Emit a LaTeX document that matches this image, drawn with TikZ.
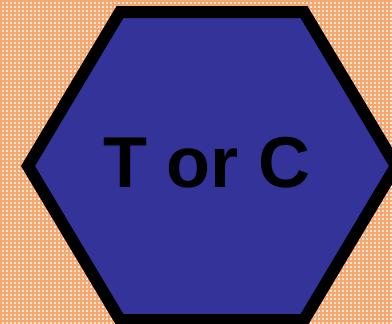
\documentclass[tikz,border=0pt]{standalone}
\usepackage{fontspec}
\setmainfont{Liberation Sans}
\definecolor{hexBlue}{HTML}{333399}
\definecolor{plaidPeach}{HTML}{FDE6D3}
\definecolor{plaidOrange}{HTML}{F6A770}
\tikzset{
    hexface/.style={draw=black,fill=hexBlue,line width=12pt,line join=miter},
    plaidline/.style={draw=plaidOrange,line width=1.2pt},
    bigtext/.style={font=\fontsize{72}{72}\selectfont\bfseries,text=black,
        inner sep=0pt,anchor=base}
}
\begin{document}
\begin{tikzpicture}[x=1pt,y=-1pt]
    \useasboundingbox (0,0) rectangle (392,324);
    \clip (0,0) rectangle (392,324);
    % plaid background
    \fill[plaidPeach] (0,0) rectangle (392,324);
    \foreach \k in {1,5,...,393} {
        \draw[plaidline] (\k,0) -- (\k,324);
    }
    \foreach \k in {1,5,...,325} {
        \draw[plaidline] (0,\k) -- (392,\k);
    }
    % hexagon
    \draw[hexface] (28,166) -- (120,12) -- (304,12) -- (396,166)
        -- (304,320) -- (120,320) -- cycle;
    \node[bigtext] (tc) at (207,187) {T or C};
\end{tikzpicture}
\end{document}
